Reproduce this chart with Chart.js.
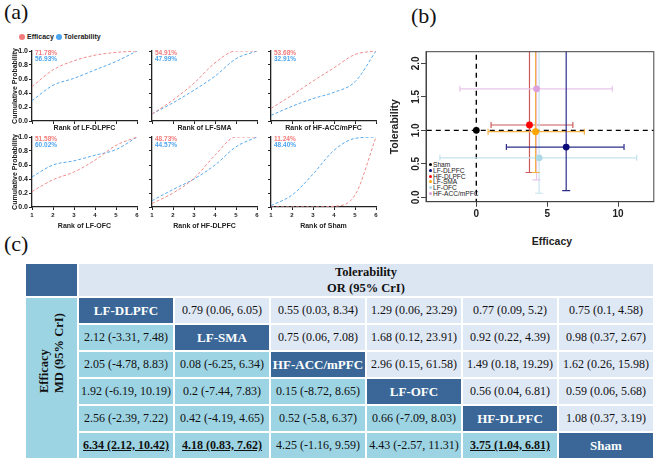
<!DOCTYPE html>
<html>
<head>
<meta charset="utf-8">
<script src="https://cdn.jsdelivr.net/npm/chart.js@4.4.0/dist/chart.umd.min.js"></script>
<style>
  body { margin: 0; width: 659px; height: 461px; position: relative; overflow: hidden; background: #fff; font-family: "Liberation Sans", Arial, sans-serif; }
  canvas { position: absolute; }
  .plabel { position: absolute; font-family: "Liberation Serif", serif; font-size: 22px; color: #111; line-height: 1; }
  #legendA { position: absolute; left: 19px; top: 33px; font-size: 7px; font-weight: bold; color: #222; white-space: nowrap; }
  #legendA i { display: inline-block; width: 6px; height: 6px; border-radius: 50%; vertical-align: -1px; margin-right: 2px; }
  #legendB { position: absolute; left: 429px; top: 162px; font-size: 6.6px; line-height: 5.8px; color: #222; white-space: nowrap; }
  #legendB i { display: inline-block; width: 3px; height: 3px; border-radius: 50%; vertical-align: 1px; margin-right: 1px; }
  #effTitle { position: absolute; left: 522px; top: 235px; width: 60px; text-align: center; font-size: 10.5px; font-weight: bold; color: #222; }
  table { position: absolute; left: 24px; top: 262px; border-collapse: collapse; table-layout: fixed; font-family: "Liberation Serif", serif; font-size: 12px; color: #111; }
  td { border: 2px solid #fff; text-align: center; padding: 0; height: 25px; white-space: nowrap; overflow: hidden; }
  td.dk { background: #3a6797; color: #fff; font-weight: bold; font-size: 13px; }
  td.hd { background: #dce6f2; font-weight: bold; font-size: 12.5px; height: 32px; line-height: 16px; }
  td.tol { background: #dfe8f5; }
  td.eff { background: #9dd4e3; }
  td.side { font-weight: bold; font-size: 12.5px; }
  .rot { transform: rotate(-90deg); white-space: nowrap; line-height: 15px; width: 30px; margin: 0 auto; }
</style>
</head>
<body>
<div class="plabel" style="left:4px;top:1px">(a)</div>
<div class="plabel" style="left:411px;top:5px">(b)</div>
<div class="plabel" style="left:4px;top:233px">(c)</div>
<div id="legendA"><i style="background:#f27a7a"></i>Efficacy <i style="background:#4ea5f0"></i>Tolerability</div>
<div id="legendB"></div>
<div id="effTitle">Efficacy</div>
<table id="tbl"></table>

<script>
// ---- (a) cumulative ranking probabilities ----
const ranks = [1, 2, 3, 4, 5, 6];
const probTicks = [0, 0.2, 0.4, 0.6, 0.8, 1.0];
const rankNames = ['LF-DLPFC', 'LF-SMA', 'HF-ACC/mPFC', 'LF-OFC', 'HF-DLPFC', 'Sham'];
const cumEfficacy = [
  [0.49, 0.73, 0.86, 0.94, 0.98, 1.0],
  [0.10, 0.30, 0.54, 0.83, 1.0, 1.0],
  [0.18, 0.37, 0.57, 0.76, 0.95, 1.0],
  [0.22, 0.39, 0.50, 0.67, 0.88, 1.0],
  [0.05, 0.20, 0.41, 0.74, 1.0, 1.0],
  [0.0, 0.0, 0.0, 0.01, 0.17, 1.0]
];
const cumTolerability = [
  [0.29, 0.51, 0.61, 0.73, 0.85, 1.0],
  [0.10, 0.26, 0.44, 0.64, 0.89, 1.0],
  [0.08, 0.21, 0.32, 0.41, 0.56, 1.0],
  [0.43, 0.60, 0.66, 0.74, 0.82, 1.0],
  [0.09, 0.25, 0.40, 0.60, 0.86, 1.0],
  [0.02, 0.17, 0.47, 0.81, 0.98, 1.0]
];
const sucraEfficacy = ['71.78%', '54.91%', '53.68%', '51.58%', '48.73%', '11.24%'];
const sucraTolerability = ['56.93%', '47.99%', '32.91%', '60.02%', '44.57%', '48.40%'];

// ---- (c) league table ----
const treatments = ['LF-DLPFC', 'LF-SMA', 'HF-ACC/mPFC', 'LF-OFC', 'HF-DLPFC', 'Sham'];
// tolerability OR (95% CrI), upper triangle, one row per treatment
const orLFDLPFC = [[0.79, 0.06, 6.05], [0.55, 0.03, 8.34], [1.29, 0.06, 23.29], [0.77, 0.09, 5.2], [0.75, 0.1, 4.58]];
const orLFSMA = [[0.75, 0.06, 7.08], [1.68, 0.12, 23.91], [0.92, 0.22, 4.39], [0.98, 0.37, 2.67]];
const orHFACC = [[2.96, 0.15, 61.58], [1.49, 0.18, 19.29], [1.62, 0.26, 15.98]];
const orLFOFC = [[0.56, 0.04, 6.81], [0.59, 0.06, 5.68]];
const orHFDLPFC = [[1.08, 0.37, 3.19]];
// efficacy MD (95% CrI), lower triangle
const mdLFSMA = [[2.12, -3.31, 7.48]];
const mdHFACC = [[2.05, -4.78, 8.83], [0.08, -6.25, 6.34]];
const mdLFOFC = [[1.92, -6.19, 10.19], [0.2, -7.44, 7.83], [0.15, -8.72, 8.65]];
const mdHFDLPFC = [[2.56, -2.39, 7.22], [0.42, -4.19, 4.65], [0.52, -5.8, 6.37], [0.66, -7.09, 8.03]];
const mdSham = [[6.34, 2.12, 10.42], [4.18, 0.83, 7.62], [4.25, -1.16, 9.59], [4.43, -2.57, 11.31], [3.75, 1.04, 6.81]];

// ---- (b) colours / legend order ----
const legendOrder = ['Sham', 'LF-DLPFC', 'HF-DLPFC', 'LF-SMA', 'LF-OFC', 'HF-ACC/mPFC'];
const pointColors = { 'Sham': '#000000', 'LF-DLPFC': '#0b0b7a', 'HF-DLPFC': '#ff0000', 'LF-SMA': '#ffa500', 'LF-OFC': '#add8e6', 'HF-ACC/mPFC': '#dda0dd' };
const barColors = { 'LF-DLPFC': '#2e2e8c', 'HF-DLPFC': '#cc5a5a', 'LF-SMA': '#f4b244', 'LF-OFC': '#c6e3ee', 'HF-ACC/mPFC': '#e9c6e9' };
const refEfficacy = 0;
const refTolerability = 1;

const effColor = '#f27a7a', tolColor = '#4ea5f0';
const effLine = '#f08c8c', tolLine = '#58a9ee';

function addCanvas(left, top, w, h) {
  const c = document.createElement('canvas');
  c.width = w; c.height = h;
  c.style.left = left + 'px'; c.style.top = top + 'px';
  document.body.appendChild(c);
  return c;
}

// SUCRA text and (first column only) y tick labels
const sucraText = {
  id: 'sucraText',
  afterDraw(chart, args, o) {
    const { ctx, chartArea: a, scales } = chart;
    ctx.save();
    ctx.font = 'bold 6.5px "Liberation Sans"';
    ctx.textBaseline = 'middle';
    ctx.fillStyle = effColor;
    ctx.fillText(o.eff, a.left + 3, a.top + 2);
    ctx.fillStyle = tolColor;
    ctx.fillText(o.tol, a.left + 3, a.top + 8);
    ctx.restore();
    if (o.yLabels) {
      ctx.save();
      ctx.fillStyle = '#1a1a1a';
      ctx.font = 'bold 7px "Liberation Sans"';
      ctx.textAlign = 'right';
      ctx.textBaseline = 'middle';
      probTicks.forEach(v => {
        ctx.fillText(v.toFixed(1), a.left - 4, scales.y.getPixelForValue(v));
      });
      ctx.restore();
    }
  }
};

// small multiples
const colLefts = [32, 152, 271];
const rowTops = [51, 137];
const plotW = 105, plotH = 70;

rankNames.forEach((name, i) => {
  const col = i % 3, row = Math.floor(i / 3);
  const yW = col === 0 ? 25 : 4;
  const xH = row === 0 ? 14 : 26;
  const c = addCanvas(colLefts[col] - yW, rowTops[row] - 4, yW + plotW + 4, 4 + plotH + xH);
  const tickFont = { family: 'Liberation Sans', size: 6, weight: 'bold' };
  new Chart(c, {
    type: 'line',
    data: {
      datasets: [
        { data: ranks.map((r, k) => ({ x: r, y: cumEfficacy[i][k] })), borderColor: effLine, borderWidth: 1, borderDash: [3, 2], pointRadius: 0, cubicInterpolationMode: 'monotone' },
        { data: ranks.map((r, k) => ({ x: r, y: cumTolerability[i][k] })), borderColor: tolLine, borderWidth: 1, borderDash: [3, 2], pointRadius: 0, cubicInterpolationMode: 'monotone' }
      ]
    },
    options: {
      responsive: false, animation: false, devicePixelRatio: 1,
      layout: { padding: { top: 4, right: 4, left: 0, bottom: 0 } },
      plugins: { legend: { display: false }, tooltip: { enabled: false },
        sucraText: { eff: sucraEfficacy[i], tol: sucraTolerability[i], yLabels: col === 0 } },
      scales: {
        x: {
          type: 'linear', min: 1, max: 6,
          ticks: { stepSize: 1, display: row === 1, font: tickFont, color: '#222', padding: 1.5 },
          grid: { drawOnChartArea: false, tickLength: 3, color: '#222', lineWidth: 1 },
          border: { color: '#222', width: 1.3 },
          title: { display: true, text: 'Rank of ' + name, color: '#222', font: { family: 'Liberation Sans', size: 7, weight: 'bold' }, padding: { top: 0, bottom: 3 } },
          afterFit: s => { s.height = xH; }
        },
        y: {
          type: 'linear', min: 0, max: 1,
          ticks: { stepSize: 0.2, display: false },
          grid: { drawOnChartArea: false, tickLength: 3, color: '#222', lineWidth: 1 },
          border: { color: '#222', width: 1.3 },
          title: { display: col === 0, text: 'Cumulative Probability', color: '#222', font: { family: 'Liberation Sans', size: 7, weight: 'bold' }, padding: { top: 4, bottom: 0 } },
          afterFit: s => { s.width = yW; }
        }
      }
    },
    plugins: [sucraText]
  });
});

// ---- (b) efficacy vs tolerability, vs Sham ----
const orRows = [orLFDLPFC, orLFSMA, orHFACC, orLFOFC, orHFDLPFC, []];
const mdRows = [[], mdLFSMA, mdHFACC, mdLFOFC, mdHFDLPFC, mdSham];
const actives = treatments.slice(0, 5);
const effVsSham = mdSham;
const tolVsSham = actives.map((t, k) => orRows[k][orRows[k].length - 1]);

const bDatasets = [];
// points first so they draw on top
legendOrder.forEach(t => {
  const k = actives.indexOf(t);
  const pt = k < 0 ? { x: refEfficacy, y: refTolerability } : { x: effVsSham[k][0], y: tolVsSham[k][0] };
  bDatasets.push({ type: 'scatter', data: [pt], pointRadius: 3.4, pointBackgroundColor: pointColors[t], pointBorderColor: pointColors[t], pointBorderWidth: 0 });
});
actives.forEach((t, k) => {
  const [e, elo, ehi] = effVsSham[k];
  const [o, olo, ohi] = tolVsSham[k];
  bDatasets.push({ type: 'line', data: [{ x: elo, y: o }, { x: ehi, y: o }], borderColor: barColors[t], borderWidth: 1.2,
    pointStyle: 'line', pointRotation: 90, pointRadius: 3, pointBorderColor: barColors[t], pointBorderWidth: 1.2 });
  bDatasets.push({ type: 'line', data: [{ x: e, y: olo }, { x: e, y: ohi }], borderColor: barColors[t], borderWidth: 1.2,
    pointStyle: 'line', pointRotation: 0, pointRadius: 4, pointBorderColor: barColors[t], pointBorderWidth: 1.2 });
});
bDatasets.push({ type: 'line', data: [{ x: -100, y: refTolerability }, { x: 100, y: refTolerability }], borderColor: '#000', borderWidth: 1.4, borderDash: [5, 4], pointRadius: 0 });
bDatasets.push({ type: 'line', data: [{ x: refEfficacy, y: -100 }, { x: refEfficacy, y: 100 }], borderColor: '#000', borderWidth: 1.4, borderDash: [5, 4], pointRadius: 0 });

const boxAndLabels = {
  id: 'boxAndLabels',
  afterDraw(chart) {
    const { ctx, chartArea: a, scales } = chart;
    ctx.save();
    ctx.strokeStyle = '#444';
    ctx.lineWidth = 1;
    ctx.strokeRect(a.left, a.top, a.right - a.left, a.bottom - a.top);
    ctx.fillStyle = '#222';
    ctx.font = 'bold 10px "Liberation Sans"';
    ctx.textAlign = 'center';
    ctx.textBaseline = 'middle';
    scales.y.ticks.forEach(t => {
      const y = scales.y.getPixelForValue(t.value);
      ctx.save();
      ctx.translate(a.left - 10, y);
      ctx.rotate(-Math.PI / 2);
      ctx.fillText(t.value.toFixed(1), 0, 0);
      ctx.restore();
    });
    ctx.restore();
  }
};

const cb = addCanvas(380, 40, 279, 210);
new Chart(cb, {
  type: 'scatter',
  data: { datasets: bDatasets },
  options: {
    responsive: false, animation: false, devicePixelRatio: 1,
    layout: { padding: { top: 11.7, right: 1, left: 0, bottom: 0 } },
    plugins: { legend: { display: false }, tooltip: { enabled: false } },
    scales: {
      x: {
        type: 'linear', min: -3.55, max: 12.52,
        ticks: { stepSize: 5, includeBounds: false, color: '#222', font: { family: 'Liberation Sans', size: 10, weight: 'bold' }, padding: 2 },
        grid: { drawOnChartArea: false, tickLength: 5, color: '#444' },
        border: { color: '#444', width: 1 },
        afterFit: s => { s.height = 48.3; }
      },
      y: {
        min: -0.066, max: 2.175,
        ticks: { stepSize: 0.5, includeBounds: false, display: false },
        grid: { drawOnChartArea: false, tickLength: 5, color: '#444' },
        border: { color: '#444', width: 1 },
        title: { display: true, text: 'Tolerability', color: '#222', font: { family: 'Liberation Sans', size: 10.5, weight: 'bold' }, padding: { top: 9, bottom: 0 } },
        afterFit: s => { s.width = 46; }
      }
    }
  },
  plugins: [boxAndLabels]
});

document.getElementById('legendB').innerHTML = legendOrder
  .map(t => `<div><i style="background:${pointColors[t]}"></i>${t}</div>`).join('');

// ---- (c) table ----
const fmt = v => `${v[0]} (${v[1]}, ${v[2]})`;
let html = '<colgroup><col style="width:53px">' + treatments.map(() => '<col style="width:96px">').join('') + '</colgroup>';
html += '<tr><td class="dk"></td><td class="hd" colspan="6">Tolerability<br>OR (95% CrI)</td></tr>';
treatments.forEach((t, i) => {
  html += '<tr>';
  if (i === 0) html += '<td class="eff side" rowspan="6"><div class="rot">Efficacy<br>MD (95% CrI)</div></td>';
  for (let j = 0; j < treatments.length; j++) {
    if (j < i) {
      const v = mdRows[i][j];
      const sig = v[1] > 0 || v[2] < 0;
      html += `<td class="eff">${sig ? '<b><u>' + fmt(v) + '</u></b>' : fmt(v)}</td>`;
    } else if (j === i) {
      html += `<td class="dk">${t}</td>`;
    } else {
      html += `<td class="tol">${fmt(orRows[i][j - i - 1])}</td>`;
    }
  }
  html += '</tr>';
});
document.getElementById('tbl').innerHTML = html;
</script>
</body>
</html>
